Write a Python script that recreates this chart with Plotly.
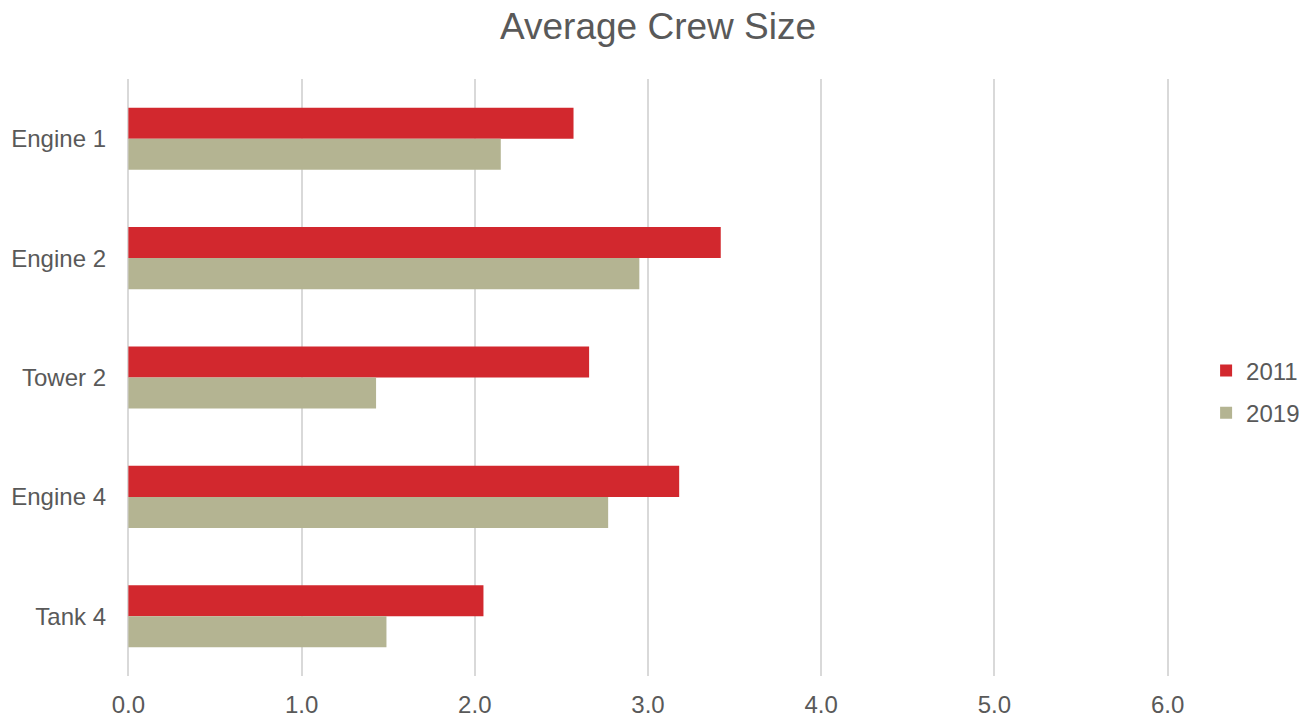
import plotly.graph_objects as go

categories = ["Engine 1", "Engine 2", "Tower 2", "Engine 4", "Tank 4"]
series_names = ["2011", "2019"]
values_2011 = [2.57, 3.42, 2.66, 3.18, 2.05]
values_2019 = [2.15, 2.95, 1.43, 2.77, 1.49]
tick_vals = [0, 1, 2, 3, 4, 5, 6]
tick_text = ["0.0", "1.0", "2.0", "3.0", "4.0", "5.0", "6.0"]

colors = ["#D2282E", "#B4B492"]

fig = go.Figure()
for name, vals, col in zip(series_names, [values_2011, values_2019], colors):
    fig.add_trace(go.Bar(y=categories, x=vals, name=name, orientation="h",
                         legendgroup=name,
                         marker=dict(color=col, line=dict(width=0))))

font_family = "Liberation Sans"
fig.update_layout(
    width=1299, height=717,
    paper_bgcolor="white", plot_bgcolor="white",
    margin=dict(l=127, r=130, t=79, b=41, autoexpand=False),
    barmode="group", bargap=0.48, bargroupgap=0,
    title=dict(text="Average Crew Size", x=658 / 1299, xanchor="center",
               y=1 - 26 / 717, yref="container", yanchor="middle",
               font=dict(family=font_family, size=37, color="#595959")),
    font=dict(family=font_family, size=24, color="#595959"),
    xaxis=dict(range=[-0.008, 6.008], tickvals=tick_vals, ticktext=tick_text,
               showgrid=True, gridcolor="#D9D9D9", gridwidth=1.5,
               zeroline=False, showline=False, ticks="",
               ticklabelstandoff=12, automargin=False,
               tickfont=dict(family=font_family, size=24, color="#595959")),
    yaxis=dict(autorange="reversed", showgrid=False, zeroline=False,
               showline=False, ticks="", ticklabelstandoff=20, automargin=False,
               tickfont=dict(family=font_family, size=24, color="#595959")),
    legend=dict(x=1.0356, xanchor="left", y=0.4757, yanchor="middle",
                font=dict(family=font_family, size=24, color="#595959"),
                itemwidth=30,
                traceorder="grouped", tracegroupgap=8,
                bgcolor="rgba(0,0,0,0)"),
)
fig.write_html("out.html")
